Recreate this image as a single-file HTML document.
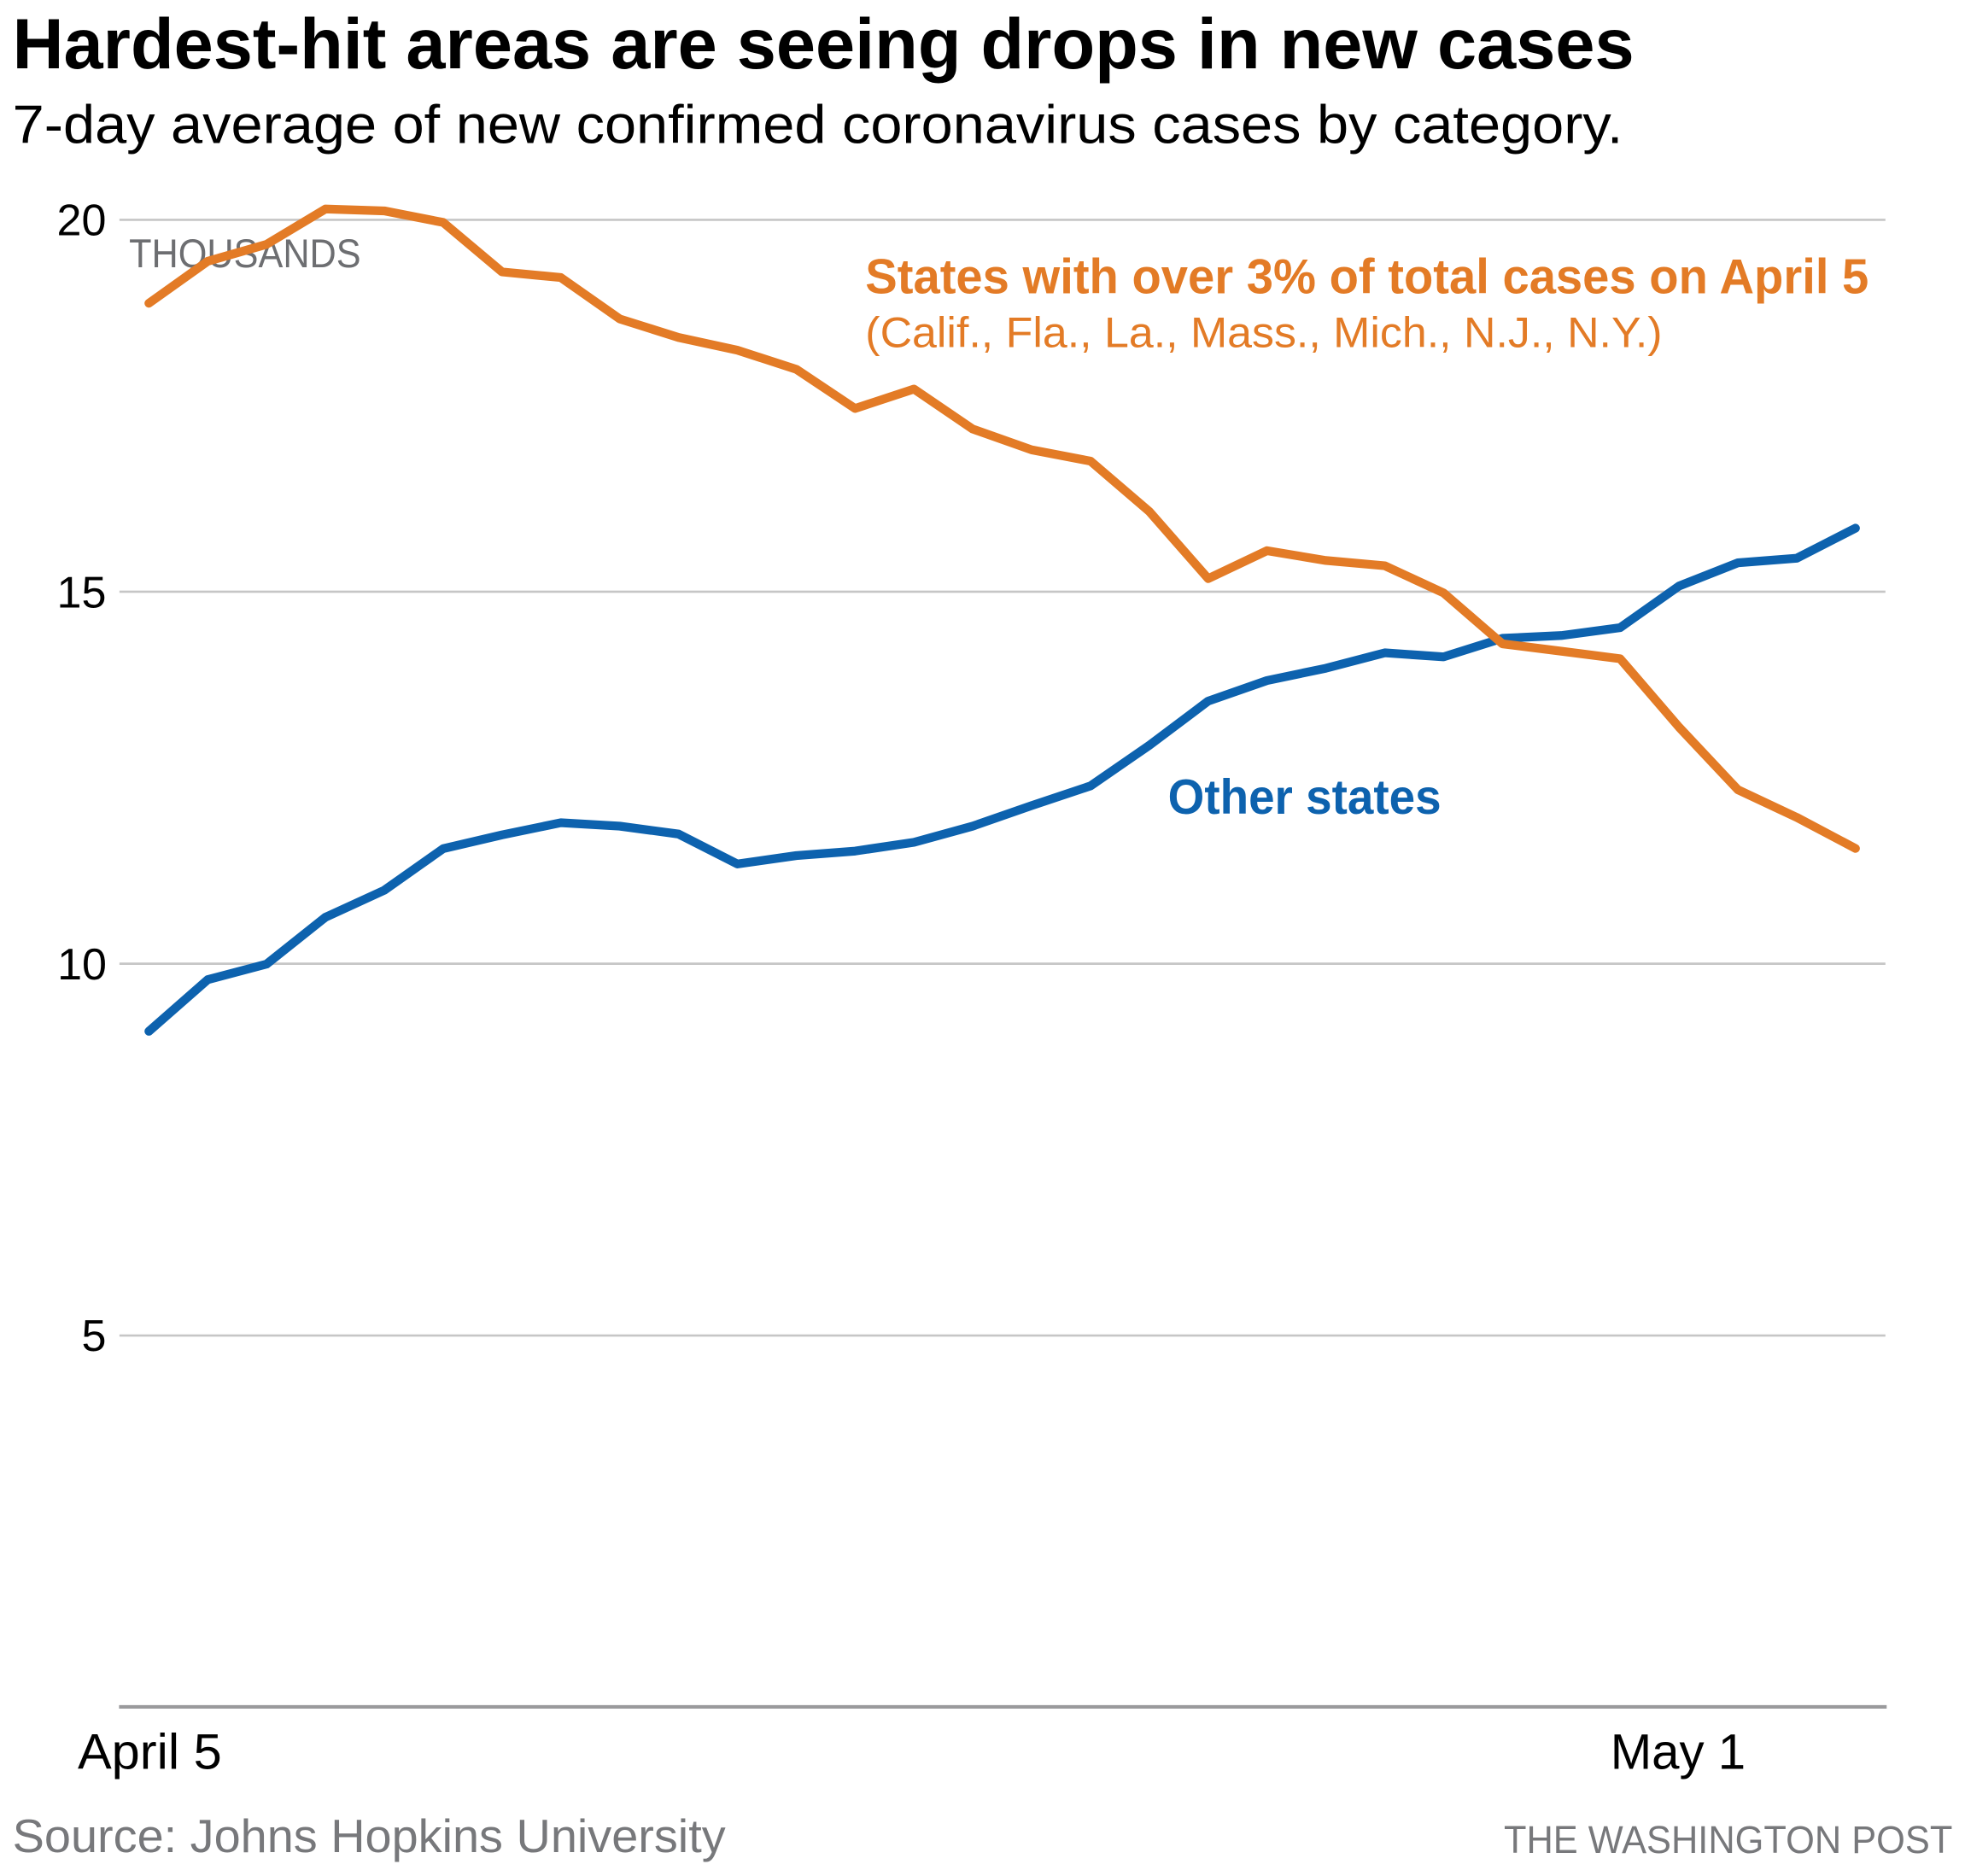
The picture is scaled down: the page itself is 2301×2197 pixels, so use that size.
<!DOCTYPE html>
<html>
<head>
<meta charset="utf-8">
<style>
  html, body { margin: 0; padding: 0; background: #ffffff; }
  svg { display: block; }
  text { font-family: "Liberation Sans", "DejaVu Sans", sans-serif; }
</style>
</head>
<body>
<svg xmlns="http://www.w3.org/2000/svg" width="2301" height="2197" viewBox="0 0 1568 1497.15" preserveAspectRatio="none">
  <rect x="0" y="0" width="1568" height="1497.15" fill="#ffffff"/>

  <!-- Title & subtitle -->
  <text x="10" y="54.5" font-size="57" font-weight="bold" fill="#000000" textLength="1294" lengthAdjust="spacingAndGlyphs">Hardest-hit areas are seeing drops in new cases</text>
  <text x="10" y="114.3" font-size="43" fill="#000000" textLength="1285" lengthAdjust="spacingAndGlyphs">7-day average of new confirmed coronavirus cases by category.</text>

  <!-- Gridlines -->
  <g stroke="#c6c6c6" stroke-width="1.8">
    <line x1="95.3" y1="175.4" x2="1504.5" y2="175.4"/>
    <line x1="95.3" y1="472.2" x2="1504.5" y2="472.2"/>
    <line x1="95.3" y1="769.1" x2="1504.5" y2="769.1"/>
    <line x1="95.3" y1="1065.8" x2="1504.5" y2="1065.8"/>
  </g>
  <!-- Baseline axis -->
  <line x1="95" y1="1362.2" x2="1505.5" y2="1362.2" stroke="#9a9a9c" stroke-width="2.8"/>

  <!-- Y labels -->
  <g font-size="35.5" fill="#000000" text-anchor="end">
    <text x="84.8" y="187.8">20</text>
    <text x="84.8" y="484.7">15</text>
    <text x="85.2" y="781.5">10</text>
    <text x="84.8" y="1078.2">5</text>
  </g>

  <!-- THOUSANDS -->
  <text x="103" y="213.4" font-size="32.5" fill="#6d6e71" textLength="185" lengthAdjust="spacingAndGlyphs">THOUSANDS</text>

  <!-- Series: Other states (blue) -->
  <polyline fill="none" stroke="#0d62ae" stroke-width="7" stroke-linecap="round" stroke-linejoin="round"
    points="118.8,823 165.8,781.8 212.7,769.4 259.7,732 306.6,710.5 353.6,677.3 400.6,666.3 447.5,656.6 494.5,659.3 541.4,665.6 588.4,689.5 635.4,682.8 682.3,679.2 729.3,672.2 776.2,659.3 823.2,642.9 870.2,627.2 917.1,594.8 964.1,559.5 1011.0,543.1 1058.0,533.3 1105.0,521 1151.9,524.2 1198.9,509.4 1245.8,507.2 1292.8,500.9 1339.8,467.7 1386.7,449.2 1433.7,445.5 1480.6,421.5"/>

  <!-- Series: States with over 3% (orange) -->
  <polyline fill="none" stroke="#e37b26" stroke-width="7" stroke-linecap="round" stroke-linejoin="round"
    points="118.8,242 165.8,208.5 212.7,195 259.7,166.8 306.6,168.3 353.6,177.5 400.6,217 447.5,221.5 494.5,254.5 541.4,269.3 588.4,279.5 635.4,294.7 682.3,326 729.3,310.5 776.2,342.4 823.2,359 870.2,368 917.1,408.2 964.1,461.8 1011.0,439.5 1058.0,447.3 1105.0,451.5 1151.9,473.2 1198.9,513.8 1245.8,519.7 1292.8,525.7 1339.8,580.3 1386.7,630.2 1433.7,652.3 1480.6,677.1"/>

  <!-- Annotations -->
  <text x="690.5" y="234" font-size="39" font-weight="bold" fill="#e37b26" textLength="800.7" lengthAdjust="spacingAndGlyphs">States with over 3% of total cases on April 5</text>
  <text x="690.5" y="277.1" font-size="34" fill="#e37b26" textLength="636" lengthAdjust="spacingAndGlyphs">(Calif., Fla., La., Mass., Mich., N.J., N.Y.)</text>
  <text x="932" y="649.5" font-size="39" font-weight="bold" fill="#0d62ae" textLength="218" lengthAdjust="spacingAndGlyphs">Other states</text>

  <!-- X labels -->
  <text x="62" y="1411.7" font-size="39.5" fill="#000000" textLength="115" lengthAdjust="spacingAndGlyphs">April 5</text>
  <text x="1285" y="1411.7" font-size="39.5" fill="#000000" textLength="108" lengthAdjust="spacingAndGlyphs">May 1</text>

  <!-- Footer -->
  <text x="10" y="1478.2" font-size="37" fill="#77787b" textLength="569" lengthAdjust="spacingAndGlyphs">Source: Johns Hopkins University</text>
  <text x="1200" y="1478.8" font-size="31" fill="#77787b" textLength="358" lengthAdjust="spacingAndGlyphs">THE WASHINGTON POST</text>
</svg>
</body>
</html>
